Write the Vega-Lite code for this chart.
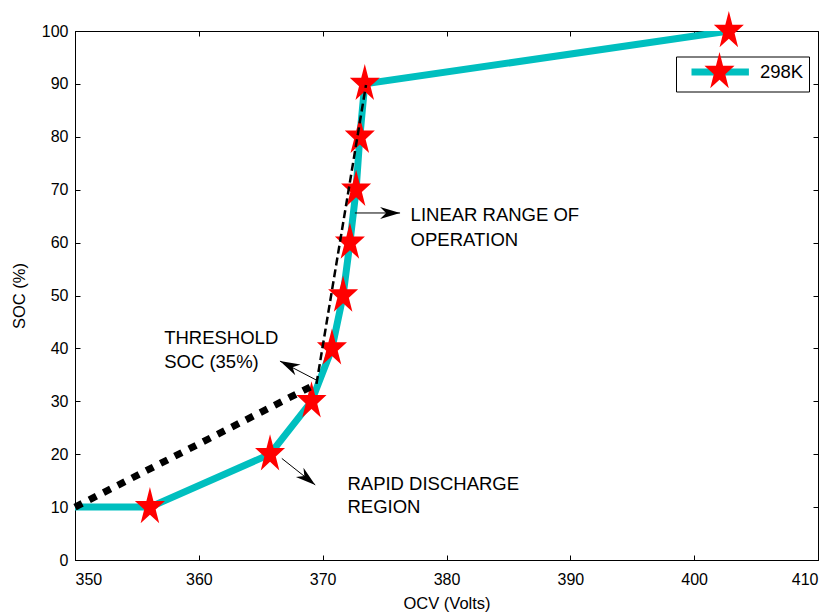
{
  "$schema": "https://vega.github.io/schema/vega-lite/v6.json",
  "width": 743,
  "height": 529,
  "autosize": {"type": "none"},
  "padding": {"left": 75, "top": 31, "right": 13, "bottom": 53},
  "config": {
    "font": "Liberation Sans",
    "view": {"stroke": "black", "strokeWidth": 1},
    "axis": {"grid": false, "domainColor": "black", "tickColor": "black", "labelColor": "black", "titleColor": "black", "labelFontSize": 16, "titleFontSize": 16.5, "titleFontWeight": "normal", "tickSize": -5}
  },
  "datasets": {
    "curve": [
      {"OCV": 350, "SOC": 10, "series": "298K"},
      {"OCV": 356.05, "SOC": 10, "series": "298K"},
      {"OCV": 365.75, "SOC": 20, "series": "298K"},
      {"OCV": 369.1, "SOC": 30, "series": "298K"},
      {"OCV": 370.75, "SOC": 40, "series": "298K"},
      {"OCV": 371.65, "SOC": 50, "series": "298K"},
      {"OCV": 372.2, "SOC": 60, "series": "298K"},
      {"OCV": 372.7, "SOC": 70, "series": "298K"},
      {"OCV": 373.0, "SOC": 80, "series": "298K"},
      {"OCV": 373.4, "SOC": 90, "series": "298K"},
      {"OCV": 402.8, "SOC": 100, "series": "298K"}
    ],
    "stars": [
      {"OCV": 356.05, "SOC": 10, "marker": "298K"},
      {"OCV": 365.75, "SOC": 20, "marker": "298K"},
      {"OCV": 369.1, "SOC": 30, "marker": "298K"},
      {"OCV": 370.75, "SOC": 40, "marker": "298K"},
      {"OCV": 371.65, "SOC": 50, "marker": "298K"},
      {"OCV": 372.2, "SOC": 60, "marker": "298K"},
      {"OCV": 372.7, "SOC": 70, "marker": "298K"},
      {"OCV": 373.0, "SOC": 80, "marker": "298K"},
      {"OCV": 373.4, "SOC": 90, "marker": "298K"},
      {"OCV": 402.8, "SOC": 100, "marker": "298K"}
    ],
    "dotted": [
      {"OCV": 350, "SOC": 10},
      {"OCV": 369.5, "SOC": 33.3}
    ],
    "dashed": [
      {"OCV": 369.5, "SOC": 33.3},
      {"OCV": 373.5, "SOC": 89.8}
    ],
    "arrows": [
      {"name": "linear", "x": 372.6, "y": 65.6, "x2": 376.25, "y2": 65.6},
      {"name": "threshold", "x": 369.5, "y": 34.0, "x2": 366.55, "y2": 37.6},
      {"name": "rapid", "x": 366.7, "y": 19.2, "x2": 369.4, "y2": 14.2}
    ],
    "labels": [
      {"text": "LINEAR RANGE OF", "x": 377.1, "y": 65.2},
      {"text": "OPERATION", "x": 377.1, "y": 60.5},
      {"text": "THRESHOLD", "x": 357.2, "y": 42.0},
      {"text": "SOC (35%)", "x": 357.2, "y": 37.4},
      {"text": "RAPID DISCHARGE", "x": 372.0, "y": 14.4},
      {"text": "REGION", "x": 372.0, "y": 10.0}
    ]
  },
  "layer": [
    {
      "data": {"name": "curve"},
      "mark": {"type": "line", "strokeWidth": 7, "clip": true},
      "encoding": {
        "x": {"field": "OCV", "type": "quantitative", "scale": {"domain": [350, 410], "nice": false},
          "axis": {"orient": "bottom", "values": [350, 360, 370, 380, 390, 400, 410], "title": "OCV (Volts)", "labelPadding": 16, "titlePadding": 8}},
        "y": {"field": "SOC", "type": "quantitative", "scale": {"domain": [0, 100], "nice": false},
          "axis": {"orient": "left", "values": [0, 10, 20, 30, 40, 50, 60, 70, 80, 90, 100], "title": "SOC (%)", "labelPadding": 12, "titlePadding": 14}},
        "color": {"field": "series", "type": "nominal", "scale": {"range": ["#00BFBF"]},
          "legend": {"orient": "none", "legendX": 601, "legendY": 25.5, "title": null, "symbolType": "M-4.1,0 H4.1", "symbolStrokeWidth": 7, "symbolSize": 196, "symbolOffset": 28.7, "labelFontSize": 18.5, "labelOffset": 29.3, "padding": 5, "strokeColor": "black", "fillColor": "white", "labelColor": "black"}}
      }
    },
    {
      "data": {"name": "stars"},
      "mark": {"type": "point", "filled": true, "color": "#FF0000", "size": 1600, "opacity": 1},
      "encoding": {
        "x": {"field": "OCV", "type": "quantitative", "axis": null},
        "y": {"field": "SOC", "type": "quantitative", "axis": null},
        "shape": {"field": "marker", "type": "nominal", "scale": {"range": ["M0,-1 L0.177,-0.309 L0.751,-0.309 L0.287,0.118 L0.465,0.809 L0,0.382 L-0.465,0.809 L-0.287,0.118 L-0.751,-0.309 L-0.177,-0.309 Z"]},
          "legend": {"orient": "none", "legendX": 624.5, "legendY": 21, "title": null, "symbolSize": 1600, "symbolFillColor": "#FF0000", "symbolStrokeColor": "#FF0000", "symbolStrokeWidth": 0, "symbolOpacity": 1, "labelFontSize": 17, "labelOpacity": 0, "padding": 0}}
      }
    },
    {
      "data": {"name": "dotted"},
      "mark": {"type": "line", "color": "black", "strokeWidth": 7, "strokeDash": [8, 8]},
      "encoding": {
        "x": {"field": "OCV", "type": "quantitative", "axis": {"orient": "top", "labels": false, "title": null, "domain": false, "values": [350, 360, 370, 380, 390, 400, 410]}},
        "y": {"field": "SOC", "type": "quantitative", "axis": {"orient": "right", "labels": false, "title": null, "domain": false, "values": [0, 10, 20, 30, 40, 50, 60, 70, 80, 90, 100]}}
      }
    },
    {
      "data": {"name": "dashed"},
      "mark": {"type": "line", "color": "black", "strokeWidth": 2.5, "strokeDash": [8, 4]},
      "encoding": {
        "x": {"field": "OCV", "type": "quantitative", "axis": null},
        "y": {"field": "SOC", "type": "quantitative", "axis": null}
      }
    },
    {
      "data": {"name": "arrows"},
      "mark": {"type": "rule", "color": "black", "strokeWidth": 1},
      "encoding": {
        "x": {"field": "x", "type": "quantitative", "axis": null},
        "y": {"field": "y", "type": "quantitative", "axis": null},
        "x2": {"field": "x2"},
        "y2": {"field": "y2"}
      }
    },
    {
      "data": {"name": "arrows"},
      "transform": [{"filter": "datum.name == 'linear'"}],
      "mark": {"type": "point", "shape": "M0,0 L-2,-0.6 L-1.4,0 L-2,0.6 Z", "filled": true, "color": "black", "opacity": 1, "size": 400, "angle": 0},
      "encoding": {"x": {"field": "x2", "type": "quantitative", "axis": null}, "y": {"field": "y2", "type": "quantitative", "axis": null}}
    },
    {
      "data": {"name": "arrows"},
      "transform": [{"filter": "datum.name == 'threshold'"}],
      "mark": {"type": "point", "shape": "M0,0 L-2,-0.6 L-1.4,0 L-2,0.6 Z", "filled": true, "color": "black", "opacity": 1, "size": 400, "angle": 206},
      "encoding": {"x": {"field": "x2", "type": "quantitative", "axis": null}, "y": {"field": "y2", "type": "quantitative", "axis": null}}
    },
    {
      "data": {"name": "arrows"},
      "transform": [{"filter": "datum.name == 'rapid'"}],
      "mark": {"type": "point", "shape": "M0,0 L-2,-0.6 L-1.4,0 L-2,0.6 Z", "filled": true, "color": "black", "opacity": 1, "size": 400, "angle": 39},
      "encoding": {"x": {"field": "x2", "type": "quantitative", "axis": null}, "y": {"field": "y2", "type": "quantitative", "axis": null}}
    },
    {
      "data": {"name": "labels"},
      "mark": {"type": "text", "align": "left", "baseline": "middle", "fontSize": 18.5, "color": "black"},
      "encoding": {
        "x": {"field": "x", "type": "quantitative", "axis": null},
        "y": {"field": "y", "type": "quantitative", "axis": null},
        "text": {"field": "text"}
      }
    }
  ]
}
